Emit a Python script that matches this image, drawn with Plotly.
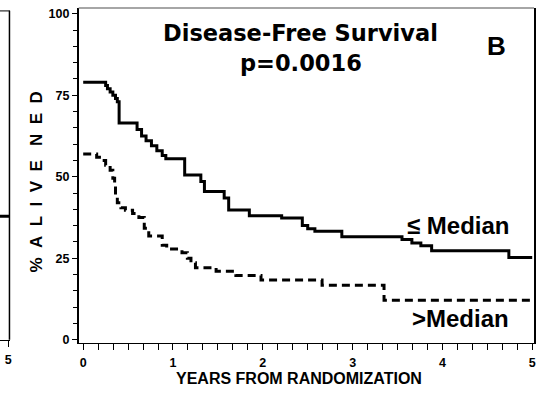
import plotly.graph_objects as go

# Panel B data
le_x = [0, 0.25, 0.27, 0.30, 0.33, 0.36, 0.38, 0.40, 0.60, 0.65, 0.70, 0.76, 0.82, 0.88, 0.92,
        1.13, 1.31, 1.35, 1.57, 1.62, 1.85, 2.21, 2.44, 2.50, 2.58, 2.88, 3.55, 3.66, 3.76, 3.88, 4.74, 5.0]
le_y = [79, 78, 77, 76, 75, 74, 73, 66.5, 64.5, 62.5, 61, 59.5, 58, 56.5, 55.5,
        50.5, 48.5, 45.5, 43.5, 39.8, 38, 37.3, 35, 34, 33.3, 31.6, 30.7, 29.7, 28.8, 27.3, 25.2, 25.2]

gt_x = [0, 0.15, 0.20, 0.25, 0.30, 0.33, 0.35, 0.36, 0.38, 0.42, 0.47, 0.55, 0.62, 0.68, 0.73,
        0.88, 0.93, 1.10, 1.16, 1.20, 1.25, 1.48, 1.70, 1.98, 2.66, 3.35, 5.0]
gt_y = [57, 56, 55, 53.5, 52, 49.5, 47, 44.5, 42, 40.5, 39.7, 38.7, 37.5, 34.2, 31.8,
        29, 27.8, 26.7, 25, 23.6, 22.1, 21, 19.7, 18.3, 16.7, 12.1, 12.1]

# Fragment of panel A visible at the left edge
a_solid_x = [4.9, 5.01]
a_solid_y = [37.9, 37.9]
a_dot_x = [4.9, 4.93]
a_dot_y = [23, 23]

y_tick_step = 25
x_tick_step = 1

FONT = "Liberation Sans, Arial, sans-serif"
W, H = 538, 393

fig = go.Figure()
fig.add_trace(go.Scatter(x=le_x, y=le_y, mode="lines", line=dict(color="black", width=3, shape="hv"),
                         xaxis="x", yaxis="y", showlegend=False, hoverinfo="skip"))
fig.add_trace(go.Scatter(x=gt_x, y=gt_y, mode="lines",
                         line=dict(color="black", width=3, shape="hv", dash="8px,5px"),
                         xaxis="x", yaxis="y", showlegend=False, hoverinfo="skip"))
fig.add_trace(go.Scatter(x=a_solid_x, y=a_solid_y, mode="lines", line=dict(color="black", width=3),
                         xaxis="x2", yaxis="y2", showlegend=False, hoverinfo="skip"))
fig.add_trace(go.Scatter(x=a_dot_x, y=a_dot_y, mode="lines", line=dict(color="black", width=2, dash="2px,3px"),
                         xaxis="x2", yaxis="y2", showlegend=False, hoverinfo="skip"))

tickfont = dict(family=FONT, size=12.5, color="black", weight="bold")

fig.update_layout(
    width=W, height=H,
    margin=dict(l=0, r=0, t=0, b=0),
    paper_bgcolor="white", plot_bgcolor="white",
    xaxis=dict(domain=[79 / W, 536 / W], range=[-0.05, 5.02], tickmode="linear", tick0=0, dtick=x_tick_step,
               ticks="outside", ticklen=6, tickwidth=1, tickcolor="black", showline=True, linecolor="black",
               linewidth=1, showgrid=False, zeroline=False, tickfont=tickfont, ticklabelstandoff=2,
               minor=dict(dtick=1 / 6, tick0=0, ticks="outside", ticklen=6, tickwidth=1, tickcolor="black",
                          showgrid=False),
               anchor="y"),
    yaxis=dict(domain=[(H - 346) / H, (H - 7) / H], range=[-0.9, 101.8], tickmode="linear", tick0=0,
               dtick=y_tick_step, ticks="outside", ticklen=5, tickwidth=1, tickcolor="black", showline=True,
               linecolor="black", linewidth=1.5, mirror=True, showgrid=False, zeroline=False, tickfont=tickfont,
               minor=dict(dtick=5, ticks="outside", ticklen=4, tickwidth=1, tickcolor="black", showgrid=False),
               anchor="x"),
    xaxis2=dict(domain=[0, 10 / W], range=[4.95, 5.01], tickvals=[5], ticks="outside", ticklen=6,
                tickcolor="black", showline=True, linecolor="black", linewidth=1, showgrid=False,
                zeroline=False, tickfont=tickfont, ticklabelstandoff=2, anchor="y2"),
    yaxis2=dict(domain=[(H - 343) / H, (H - 10) / H], range=[0, 101], showticklabels=False, ticks="",
                showline=False, showgrid=False, zeroline=False, anchor="x2", side="right"),
    shapes=[
        dict(type="line", xref="x domain", yref="y domain", x0=0, x1=1, y0=1, y1=1,
             line=dict(color="#888888", width=1.5)),
        dict(type="line", xref="x2 domain", yref="y2 domain", x0=0, x1=1, y0=1, y1=1,
             line=dict(color="#555555", width=1.5)),
        dict(type="line", xref="x2 domain", yref="y2 domain", x0=0.95, x1=0.95, y0=0, y1=1,
             line=dict(color="black", width=1.5)),
    ],
    annotations=[
        dict(text="Disease-Free Survival", x=302 / W, y=(H - 32) / H, xref="paper", yref="paper",
             showarrow=False, xanchor="center", yanchor="middle",
             font=dict(family="DejaVu Sans", size=22.5, color="black", weight="bold")),
        dict(text="p=0.0016", x=302 / W, y=(H - 63) / H, xref="paper", yref="paper",
             showarrow=False, xanchor="center", yanchor="middle",
             font=dict(family="DejaVu Sans", size=22.5, color="black", weight="bold")),
        dict(text="B", x=498 / W, y=(H - 46) / H, xref="paper", yref="paper",
             showarrow=False, xanchor="center", yanchor="middle",
             font=dict(family=FONT, size=26, color="black", weight="bold")),
        dict(text="≤ Median", x=460 / W, y=(H - 227) / H, xref="paper", yref="paper",
             showarrow=False, xanchor="center", yanchor="middle",
             font=dict(family=FONT, size=24, color="black", weight="bold")),
        dict(text=">Median", x=462 / W, y=(H - 322) / H, xref="paper", yref="paper",
             showarrow=False, xanchor="center", yanchor="middle",
             font=dict(family=FONT, size=24, color="black", weight="bold")),
        dict(text="%\u00a0\u00a0A\u00a0\u00a0L\u00a0\u00a0I\u00a0\u00a0V\u00a0\u00a0E\u00a0\u00a0\u00a0N\u00a0\u00a0E\u00a0\u00a0D",
             x=37 / W, y=(H - 183) / H, xref="paper", yref="paper", textangle=-90,
             showarrow=False, xanchor="center", yanchor="middle",
             font=dict(family=FONT, size=17, color="black", weight="bold")),
        dict(text="YEARS FROM RANDOMIZATION", x=300 / W, y=(H - 373) / H, xref="paper", yref="paper",
             showarrow=False, xanchor="center", yanchor="top", borderpad=0,
             font=dict(family=FONT, size=16, color="black", weight="bold")),
    ],
)

fig.write_html("out.html")
